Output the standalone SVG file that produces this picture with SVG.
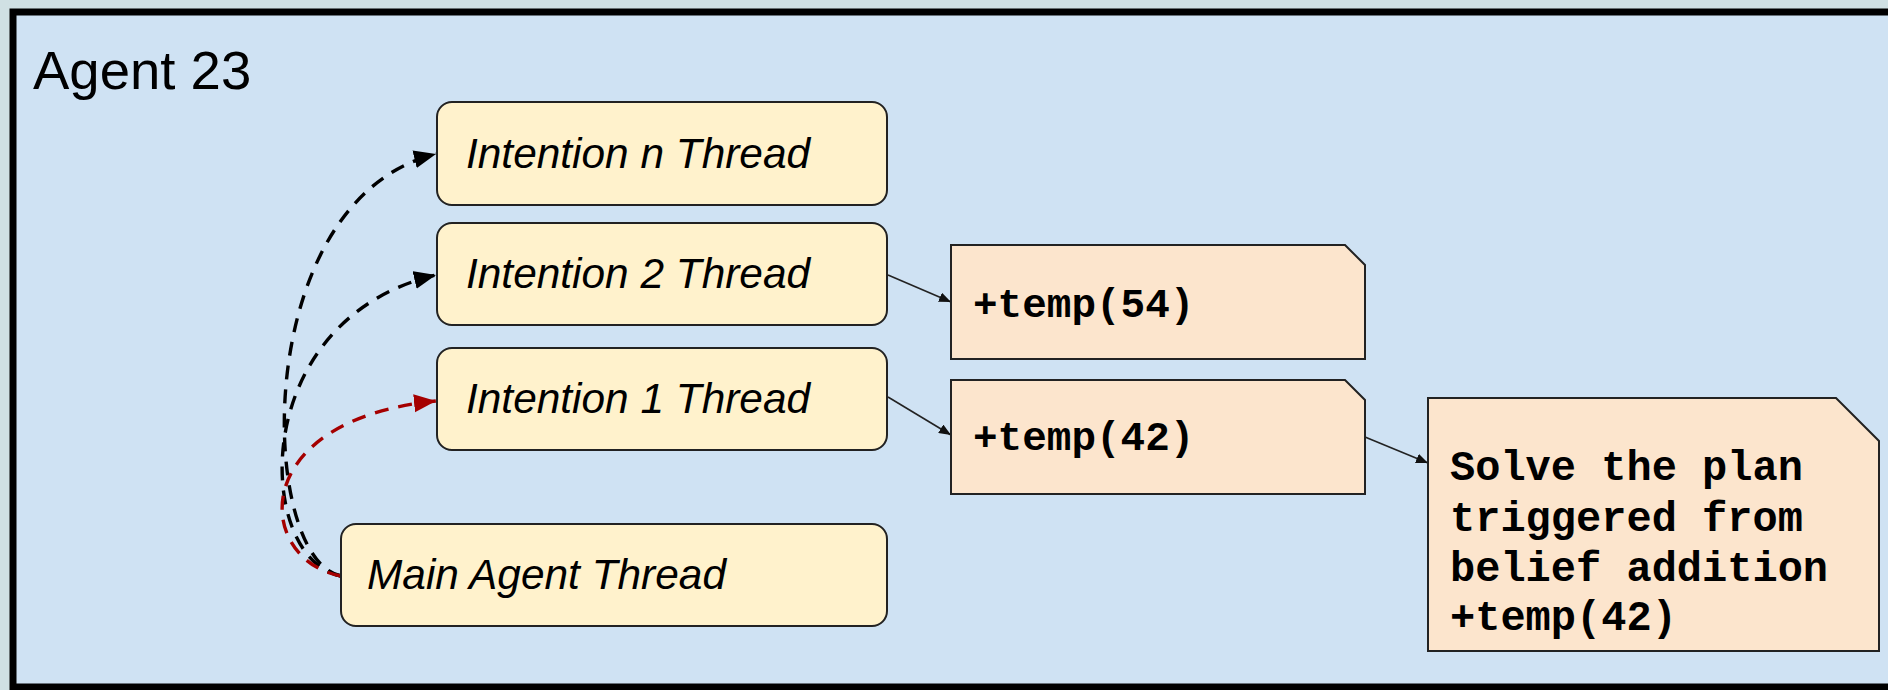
<svg xmlns="http://www.w3.org/2000/svg" width="1888" height="690" viewBox="0 0 1888 690">
  <defs>
    <style>
      .frame { fill: #cfe2f3; stroke: #000; stroke-width: 7; }
      .thread { fill: #fff2cc; stroke: #222; stroke-width: 2; }
      .note { fill: #fce5cd; stroke: #222; stroke-width: 2; }
      .ttext { font-family: "Liberation Sans", Arial, sans-serif; font-style: italic; font-size: 42.4px; fill: #000; }
      .mono { font-family: "Liberation Mono", "Courier New", monospace; font-weight: bold; fill: #000; }
      .solid { fill: none; stroke: #222; stroke-width: 1.6; marker-end: url(#small); }
      .dash { fill: none; stroke: #000; stroke-width: 3.4; stroke-dasharray: 14 10; marker-end: url(#bigblack); }
      .dashred { fill: none; stroke: #a50000; stroke-width: 3.4; stroke-dasharray: 14 10; marker-end: url(#bigred); }
    </style>
    <marker id="small" markerUnits="userSpaceOnUse" markerWidth="14" markerHeight="10" refX="12" refY="5" orient="auto">
      <path d="M0,0 L12,5 L0,10 Z" fill="#111"/>
    </marker>
    <marker id="bigblack" markerUnits="userSpaceOnUse" markerWidth="24" markerHeight="20" refX="22" refY="9" orient="auto">
      <path d="M0,0 L22,9 L0,18 Z" fill="#000"/>
    </marker>
    <marker id="bigred" markerUnits="userSpaceOnUse" markerWidth="24" markerHeight="20" refX="22" refY="9" orient="auto">
      <path d="M0,0 L22,9 L0,18 Z" fill="#a50000"/>
    </marker>
  </defs>

  <rect x="0" y="0" width="1888" height="690" fill="#d0e0e3"/>
  <g id="agent23">
    <rect class="frame" x="13" y="12" width="1900" height="675"/>
    <text x="33" y="89" font-family="'Liberation Sans', Arial, sans-serif" font-size="54.5" fill="#000">Agent 23</text>
  </g>

  <g id="connectors">
    <path class="dash" d="M341,576 C258,560 248,200 436,154"/>
    <path class="dash" d="M341,576 C255,560 245,320 436,275"/>
    <path class="dashred" d="M341,576 C255,560 245,420 436,401"/>
    <line class="solid" x1="888" y1="275" x2="951" y2="302"/>
    <line class="solid" x1="888" y1="397" x2="951" y2="435"/>
    <line class="solid" x1="1365" y1="437" x2="1428" y2="463"/>
  </g>

  <g id="intention-n">
    <rect class="thread" x="437" y="102" width="450" height="103" rx="15"/>
    <text class="ttext" x="466" y="168">Intention n Thread</text>
  </g>
  <g id="intention-2">
    <rect class="thread" x="437" y="223" width="450" height="102" rx="15"/>
    <text class="ttext" x="466" y="288">Intention 2 Thread</text>
  </g>
  <g id="intention-1">
    <rect class="thread" x="437" y="348" width="450" height="102" rx="15"/>
    <text class="ttext" x="466" y="413">Intention 1 Thread</text>
  </g>
  <g id="main-agent-thread">
    <rect class="thread" x="341" y="524" width="546" height="102" rx="15"/>
    <text class="ttext" x="367" y="589">Main Agent Thread</text>
  </g>

  <g id="note-temp54">
    <path class="note" d="M951,245 L1345,245 L1365,265 L1365,359 L951,359 Z"/>
    <text class="mono" x="973" y="317" font-size="41">+temp(54)</text>
  </g>
  <g id="note-temp42">
    <path class="note" d="M951,380 L1345,380 L1365,400 L1365,494 L951,494 Z"/>
    <text class="mono" x="973" y="450" font-size="41">+temp(42)</text>
  </g>
  <g id="note-solve">
    <path class="note" d="M1428,398 L1836,398 L1879,441 L1879,651 L1428,651 Z"/>
    <text class="mono" font-size="42">
      <tspan x="1450" y="480">Solve the plan</tspan>
      <tspan x="1450" y="531">triggered from</tspan>
      <tspan x="1450" y="581">belief addition</tspan>
      <tspan x="1450" y="630">+temp(42)</tspan>
    </text>
  </g>
</svg>
